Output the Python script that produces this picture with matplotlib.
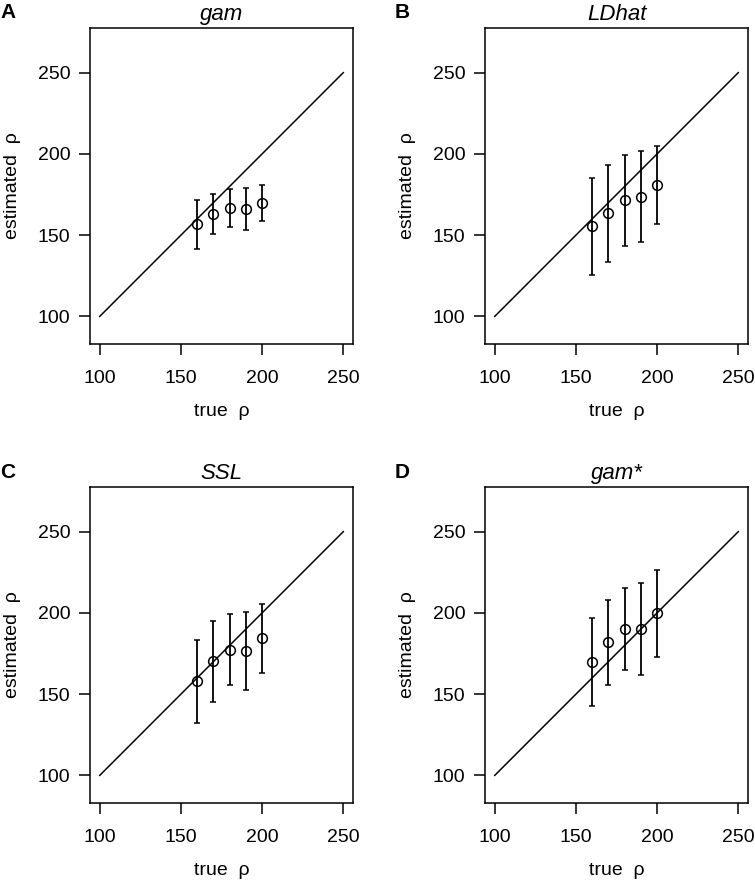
import matplotlib
matplotlib.use('Agg')
import matplotlib.pyplot as plt

plt.rcParams['font.family'] = ['Liberation Sans', 'DejaVu Sans']

# data
true_rho = [160, 170, 180, 190, 200]
letters = ['A', 'B', 'C', 'D']
titles = ['gam', 'LDhat', 'SSL', 'gam*']

est_gam = [156.6, 163.1, 167.0, 166.1, 170.0]
lo_gam = [141.4, 150.4, 155.3, 153.1, 158.8]
hi_gam = [171.5, 175.6, 178.2, 178.8, 180.9]

est_ldhat = [155.5, 163.7, 171.5, 173.7, 181.1]
lo_ldhat = [125.7, 133.6, 143.4, 145.9, 156.9]
hi_ldhat = [185.4, 193.4, 199.3, 201.7, 204.8]

est_ssl = [157.9, 170.6, 177.4, 176.8, 184.4]
lo_ssl = [132.3, 145.4, 155.4, 152.6, 163.2]
hi_ssl = [183.5, 195.2, 199.3, 200.6, 205.5]

est_gams = [169.8, 182.1, 190.3, 190.1, 200.0]
lo_gams = [142.5, 155.8, 165.1, 161.6, 173.1]
hi_gams = [197.1, 207.7, 215.5, 218.6, 226.6]

ticks = [100, 150, 200, 250]
diag = [100, 250]

panels = [(est_gam, lo_gam, hi_gam),
          (est_ldhat, lo_ldhat, hi_ldhat),
          (est_ssl, lo_ssl, hi_ssl),
          (est_gams, lo_gams, hi_gams)]

W, H = 755, 882
fig = plt.figure(figsize=(W / 100, H / 100), dpi=100)

# frame boxes in pixels: left, top, width, height
lefts = [90, 485, 90, 485]
tops = [28, 28, 487, 487]
pw, ph = 263, 316

for i, (est, lo, hi) in enumerate(panels):
    ax = fig.add_axes([lefts[i] / W, 1 - (tops[i] + ph) / H, pw / W, ph / H])
    ax.plot(diag, diag, color='black', linewidth=1.1)
    yerr = [[e - l for e, l in zip(est, lo)], [h - e for e, h in zip(est, hi)]]
    ax.errorbar(true_rho, est, yerr=yerr, fmt='o', color='black',
                markerfacecolor='none', markersize=7, markeredgewidth=1.1,
                elinewidth=1.3, capsize=2, capthick=1.3)
    ax.set_xlim(94, 256)
    ax.set_ylim(83, 277.5)
    ax.set_xticks(ticks)
    ax.set_yticks(ticks)
    ax.tick_params(direction='out', length=8, width=1.1, labelsize=14)
    ax.tick_params(axis='x', pad=11)
    ax.tick_params(axis='y', pad=6)
    for s in ax.spines.values():
        s.set_linewidth(1.1)
    ax.set_xlabel('true  \u03c1', fontsize=14, labelpad=11)
    ax.set_ylabel('estimated  \u03c1', fontsize=14, labelpad=12)
    ax.set_title(titles[i], fontsize=16, style='italic', pad=6)
    fig.text((lefts[i] - 90) / W, 1 - (tops[i] - 15) / H, letters[i],
             fontsize=15, fontweight='bold', va='center', ha='left')

plt.savefig('out.png', dpi=100)
plt.close()
